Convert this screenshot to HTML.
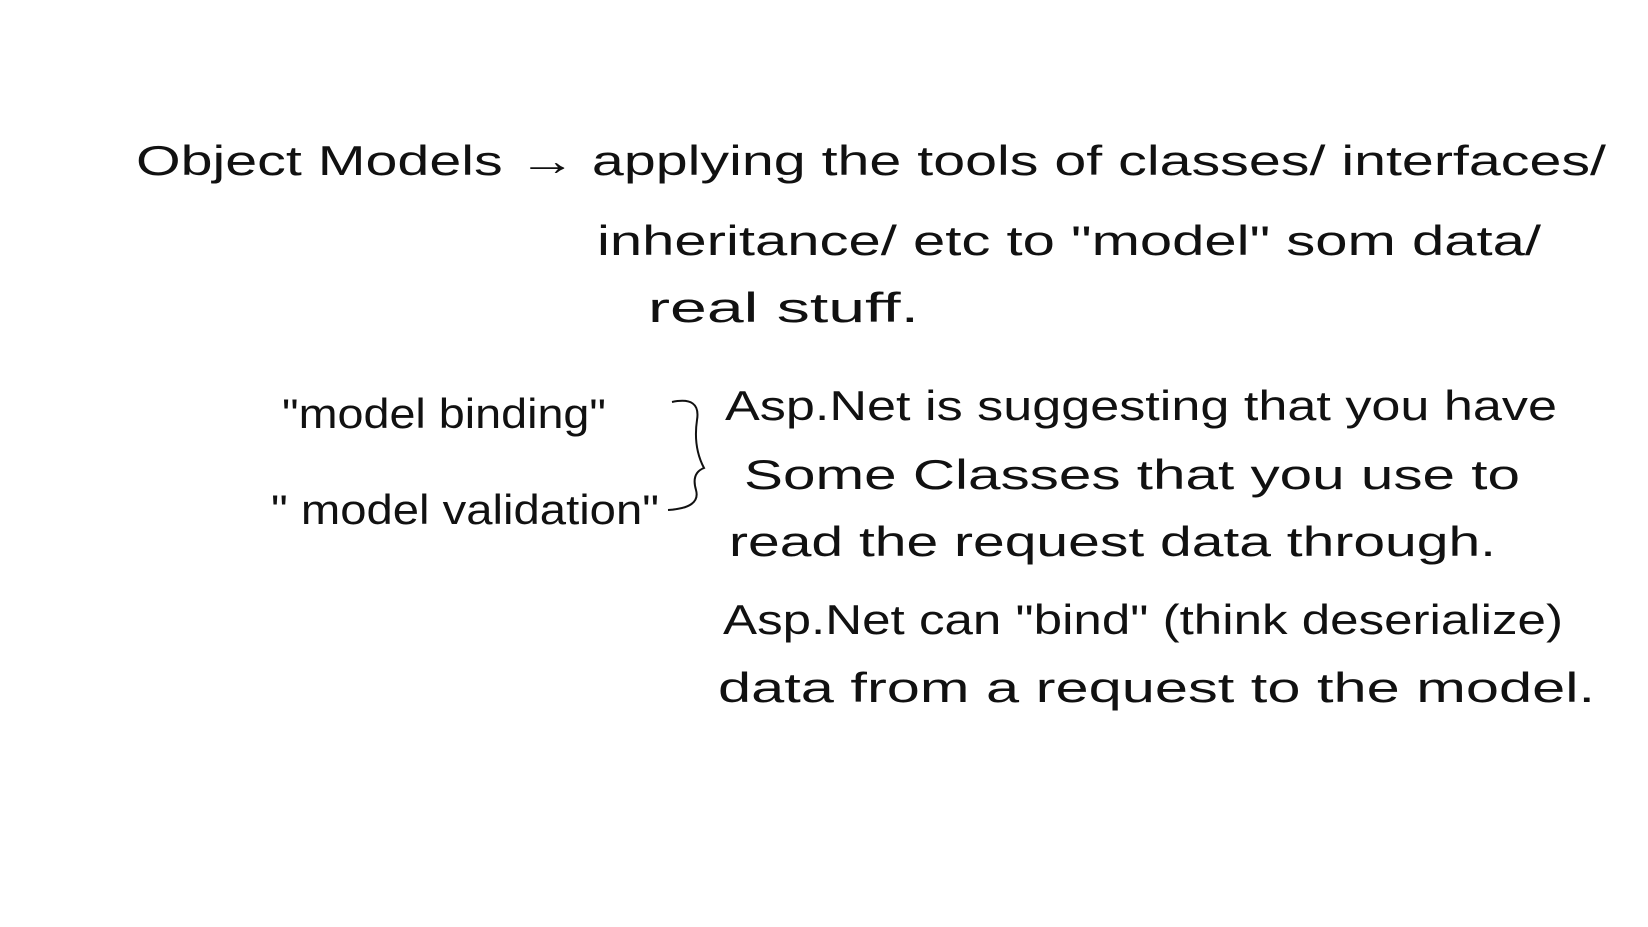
<!DOCTYPE html>
<html><head><meta charset="utf-8"><style>
html,body{margin:0;padding:0;background:#fff;}
svg{display:block}
text{font-family:"Liberation Sans",sans-serif;fill:#111;}
</style></head><body>
<svg width="1648" height="927" viewBox="0 0 1648 927" xmlns="http://www.w3.org/2000/svg">
<g font-size="42">
<text x="136" y="175" textLength="1470" lengthAdjust="spacingAndGlyphs">Object  Models  →  applying  the  tools  of  classes/  interfaces/</text>
<text x="597" y="255" textLength="944" lengthAdjust="spacingAndGlyphs">inheritance/ etc  to "model" som  data/</text>
<text x="648" y="322" textLength="271" lengthAdjust="spacingAndGlyphs">real  stuff.</text>
<text x="282" y="428" textLength="324" lengthAdjust="spacingAndGlyphs">"model  binding"</text>
<text x="271" y="524" textLength="388" lengthAdjust="spacingAndGlyphs">"  model  validation"</text>
<text x="725" y="420" textLength="832" lengthAdjust="spacingAndGlyphs">Asp.Net  is  suggesting  that  you  have</text>
<text x="744" y="489" textLength="776" lengthAdjust="spacingAndGlyphs">Some  Classes  that  you  use  to</text>
<text x="729" y="556" textLength="767" lengthAdjust="spacingAndGlyphs">read  the  request  data  through.</text>
<text x="723" y="634" textLength="840" lengthAdjust="spacingAndGlyphs">Asp.Net  can  "bind" (think  deserialize)</text>
<text x="718" y="702" textLength="877" lengthAdjust="spacingAndGlyphs">data  from  a  request  to  the  model.</text>
</g>
<path d="M672 402 Q701 396 697 420 Q693 447 704 468 Q691 473 696 490 Q701 508 668 510" fill="none" stroke="#111" stroke-width="2"/>
</svg>
</body></html>
